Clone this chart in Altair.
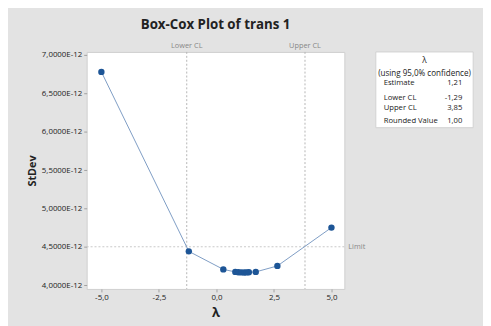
import altair as alt
import pandas as pd

# ---- data (StDev values in units of 1E-12) ----
lam = [-5.0, -1.2, 0.3, 0.82, 0.95, 1.08, 1.21, 1.31, 1.41, 1.71, 2.65, 5.0]
stdev_e12 = [6.78, 4.44, 4.205, 4.172, 4.168, 4.166, 4.165, 4.166, 4.168, 4.172, 4.25, 4.75]

lower_cl = -1.29
upper_cl = 3.85
limit_e12 = 4.50
estimate = 1.21
rounded_value = 1.00

cl_labels = ["Lower CL", "Upper CL"]
cl_values = [lower_cl, upper_cl]

y_ticks = [4.0, 4.5, 5.0, 5.5, 6.0, 6.5, 7.0]
x_ticks = [-5.0, -2.5, 0.0, 2.5, 5.0]

legend_labels = ["Estimate", "Lower CL", "Upper CL", "Rounded Value"]
legend_values = [estimate, lower_cl, upper_cl, rounded_value]

# ---- layout ----
W, H = 262, 241
FONT = "Open Sans"
GRAY_BG = "#e3e3e3"


def fmt2(v):
    return f"{v:.2f}".replace(".", ",")


df = pd.DataFrame({"lam": lam, "sd": stdev_e12})
df_cl = pd.DataFrame({"x": cl_values, "label": cl_labels})
df_lim = pd.DataFrame({"y": [limit_e12], "label": ["Limit"]})
one = pd.DataFrame({"a": [0]})

x_scale = alt.Scale(domain=[-5.64, 5.56], nice=False, zero=False)
y_scale = alt.Scale(domain=[3.95, 7.04], nice=False, zero=False)

x_axis = alt.Axis(
    values=x_ticks,
    labelExpr="replace(replace(format(datum.value, '.1f'), '.', ','), '\u2212', '-')",
    title="λ",
    titleFontSize=13,
    titlePadding=5,
)
y_axis = alt.Axis(
    values=y_ticks,
    labelExpr="replace(format(datum.value, '.4f'), '.', ',') + 'E-12'",
    title="StDev",
    titleFontSize=11,
    titlePadding=4,
)

base = alt.Chart(df)

line = base.mark_line(color="#7d9cc4", strokeWidth=1).encode(
    x=alt.X("lam:Q", scale=x_scale, axis=x_axis),
    y=alt.Y("sd:Q", scale=y_scale, axis=y_axis),
)
pts = base.mark_circle(size=42, color="#1d5596", opacity=1).encode(
    x=alt.X("lam:Q", scale=x_scale),
    y=alt.Y("sd:Q", scale=y_scale),
)

cl_rules = alt.Chart(df_cl).mark_rule(color="#b5b5b5", strokeDash=[2, 2], strokeWidth=1).encode(
    x=alt.X("x:Q", scale=x_scale)
)
cl_text = alt.Chart(df_cl).mark_text(
    font=FONT, fontSize=7.5, color="#888", baseline="bottom", dy=-2
).encode(
    x=alt.X("x:Q", scale=x_scale),
    y=alt.value(0),
    text="label:N",
)

lim_rule = alt.Chart(df_lim).mark_rule(color="#c8c8c8", strokeDash=[2, 2], strokeWidth=1).encode(
    y=alt.Y("y:Q", scale=y_scale)
)
lim_text = alt.Chart(df_lim).mark_text(
    font=FONT, fontSize=7.5, color="#888", align="left", baseline="middle"
).encode(
    x=alt.value(W + 4),
    y=alt.Y("y:Q", scale=y_scale),
    text="label:N",
)

# ---- side box with λ summary ----
box_l, box_r, box_t, box_b = 294, 393, 0, 77
box = alt.Chart(one).mark_rect(fill="white", stroke="#d2d2d2", strokeWidth=1).encode(
    x=alt.value(box_l), x2=alt.value(box_r), y=alt.value(box_t), y2=alt.value(box_b)
)

TXT = "#1a1a1a"
box_layers = [box]
box_center = (box_l + box_r) / 2
box_layers.append(
    alt.Chart(one).mark_text(font=FONT, fontSize=8.5, color=TXT).encode(
        x=alt.value(box_center), y=alt.value(8), text=alt.value("λ")
    )
)
box_layers.append(
    alt.Chart(one).mark_text(font=FONT, fontSize=8.2, color=TXT).encode(
        x=alt.value(box_center), y=alt.value(22), text=alt.value("(using 95,0% confidence)")
    )
)
row_y = [32, 47, 57, 70]
for lbl, val, yy in zip(legend_labels, legend_values, row_y):
    box_layers.append(
        alt.Chart(one).mark_text(font=FONT, fontSize=7.8, color=TXT, align="left").encode(
            x=alt.value(box_l + 8), y=alt.value(yy), text=alt.value(lbl)
        )
    )
    box_layers.append(
        alt.Chart(one).mark_text(font=FONT, fontSize=7.8, color=TXT, align="right").encode(
            x=alt.value(box_r - 11), y=alt.value(yy), text=alt.value(fmt2(val))
        )
    )

chart = alt.layer(
    cl_rules, lim_rule, line, pts, cl_text, lim_text, *box_layers
).properties(
    width=W,
    height=H,
    title=alt.TitleParams(
        "Box-Cox Plot of trans 1",
        font=FONT,
        fontSize=13.5,
        fontWeight="bold",
        color="#222",
        anchor="middle",
        offset=11,
    ),
    autosize=alt.AutoSizeParams(type="none"),
    padding={"left": 80, "top": 42, "right": 141, "bottom": 35},
    background=GRAY_BG,
).configure_view(
    fill="white", stroke="#cfcfcf", strokeWidth=1
).configure_axis(
    labelFont=FONT,
    labelFontSize=8,
    labelColor="#222",
    titleFont=FONT,
    titleFontWeight="bold",
    titleColor="#222",
    domain=False,
    grid=False,
    tickColor="#a0a0a0",
    tickSize=3,
    labelPadding=2,
)

chart.save("out.html", embed_options={"renderer": "svg", "actions": False})
